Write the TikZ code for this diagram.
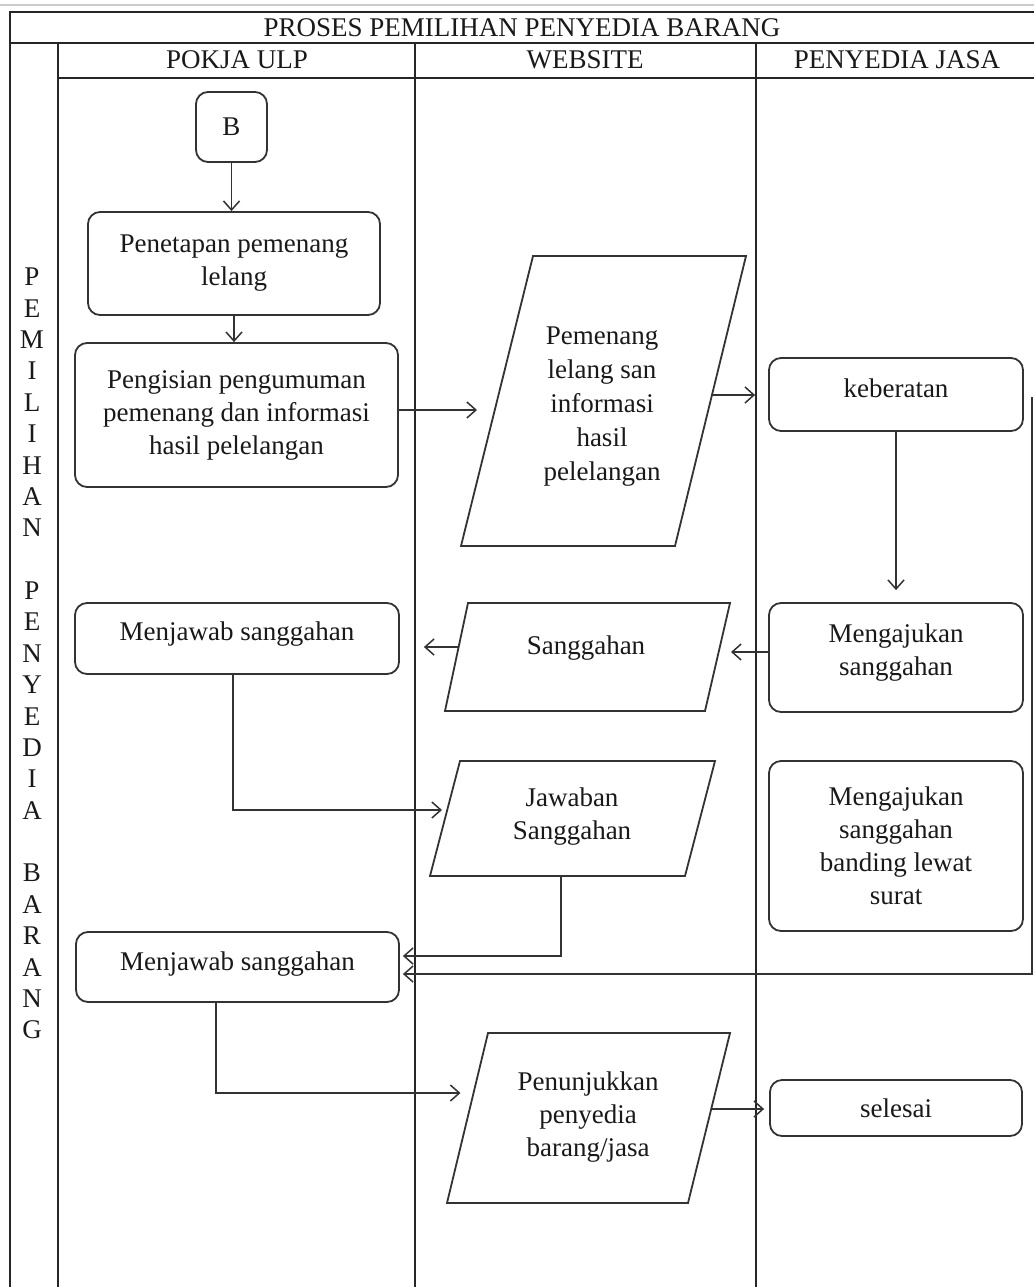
\documentclass[tikz,border=0pt]{standalone}
\usepackage{fontspec}
\setmainfont{Liberation Serif}
\usetikzlibrary{arrows.meta}
\newcommand{\diafont}{\fontsize{27}{33}\selectfont}
\begin{document}
\begin{tikzpicture}[x=1pt,y=-1pt,
  frame/.style={draw=black!85, line width=1.8pt},
  box/.style={draw=black!80, line width=1.8pt, rounded corners=12pt, align=center, inner sep=0pt, font=\diafont, text=black!90},
  lbl/.style={align=center, inner sep=0pt, font=\diafont, text=black!90},
  para/.style={draw=black!80, line width=1.8pt, line join=miter},
  conn/.style={draw=black!80, line width=1.5pt, -{Straight Barb[length=9pt,width=16pt,line width=1.5pt]}},
  vlet/.style={inner sep=0pt, font=\diafont, text=black!90},
]
\useasboundingbox (0,0) rectangle (1034,1287);
\fill[white] (0,0) rectangle (1034,1287);
\draw[black!20, line width=2pt] (0,5.5) -- (1034,5.5);

% frame
\draw[frame] (10,1287) -- (10,12) -- (1034,12);
\draw[frame] (10,43) -- (1034,43);
\draw[frame] (58,78) -- (1034,78);
\draw[frame] (58,43) -- (58,1287);
\draw[frame] (415,43) -- (415,1287);
\draw[frame] (756,43) -- (756,1287);

\node[lbl] (title) at (522,28) {PROSES PEMILIHAN PENYEDIA BARANG};
\node[lbl] (h1) at (237,60) {POKJA ULP};
\node[lbl] (h2) at (585,60) {WEBSITE};
\node[lbl] (h3) at (897,60) {PENYEDIA JASA};

\foreach \l [count=\i from 0] in {P,E,M,I,L,I,H,A,N,{},P,E,N,Y,E,D,I,A,{},B,A,R,A,N,G}
  \node[vlet] (v\i) at (32,277+\i*31.375) {\l};

% boxes
\node[box, minimum width=71pt, minimum height=70pt] (B) at (231.5,127) {B};
\node[box, minimum width=292pt, minimum height=103pt] (pen) at (234,263.5) {Penetapan pemenang\\lelang};
\node[box, minimum width=323pt, minimum height=144pt] (isi) at (236.5,415) {Pengisian pengumuman\\pemenang dan informasi\\hasil pelelangan};
\node[box, minimum width=324pt, minimum height=71pt, text depth=14pt] (jw1) at (237,638.5) {Menjawab sanggahan};
\node[box, minimum width=323pt, minimum height=70pt, text depth=12pt] (jw2) at (237.5,967) {Menjawab sanggahan};
\node[box, minimum width=254pt, minimum height=73pt, text depth=12pt] (keb) at (896,394.5) {keberatan};
\node[box, minimum width=254pt, minimum height=109pt, text depth=15pt] (aju) at (896,657.5) {Mengajukan\\sanggahan};
\node[box, minimum width=254pt, minimum height=170pt] (band) at (896,846) {Mengajukan\\sanggahan\\banding lewat\\surat};
\node[box, minimum width=252pt, minimum height=56pt] (sel) at (896,1108) {selesai};

% parallelograms
\draw[para] (533,256) -- (746,256) -- (675,546) -- (461,546) -- cycle;
\node[lbl, font=\fontsize{27}{34}\selectfont] (p1) at (602,407) {Pemenang\\lelang san\\informasi\\hasil\\pelelangan};
\coordinate (p1in) at (495,410);
\coordinate (p1out) at (712,395);

\draw[para] (468,603) -- (730,603) -- (705,711) -- (445,711) -- cycle;
\node[lbl] (sg) at (586,648) {Sanggahan};
\coordinate (sgR) at (719,652);
\coordinate (sgL) at (459,647);

\draw[para] (460,761) -- (715,761) -- (685,876) -- (430,876) -- cycle;
\node[lbl] (jb) at (572,817) {Jawaban\\Sanggahan};
\coordinate (jbL) at (447,810);
\coordinate (jbB) at (561,876);

\draw[para] (488,1033) -- (730,1033) -- (688,1203) -- (447,1203) -- cycle;
\node[lbl] (pn) at (588,1117.5) {Penunjukkan\\penyedia\\barang/jasa};
\coordinate (pnL) at (473.5,1093);
\coordinate (pnR) at (711,1109);

% connectors
\draw[conn] (B.south) -- (B.south |- pen.north);
\draw[conn] (pen.south) -- (pen.south |- isi.north);
\draw[conn, shorten >=18pt] (isi.east |- p1in) -- (p1in);
\draw[conn, shorten >=13pt] (p1out) -- (keb.west |- p1out);
\draw[conn, shorten >=12pt] (keb.south) -- (aju.north);
\draw[conn, shorten >=12pt] (aju.west |- sgR) -- (sgR);
\draw[conn, shorten >=24pt] (sgL) -- (jw1.east |- sgL);
\draw[conn, shorten >=5pt] ([xshift=-4pt]jw1.south) |- (jbL);
\draw[conn, shorten >=3pt] (jbB) |- ([yshift=11pt]jw2.east);
\draw[conn, shorten >=3pt] ([xshift=8pt,yshift=-2.5pt]keb.east) |- ([yshift=-7pt]jw2.east);
\draw[conn, shorten >=13pt] ([xshift=-21.5pt]jw2.south) |- (pnL);
\draw[conn, shorten >=5pt] (pnR) -- (sel.west |- pnR);
\end{tikzpicture}
\end{document}
